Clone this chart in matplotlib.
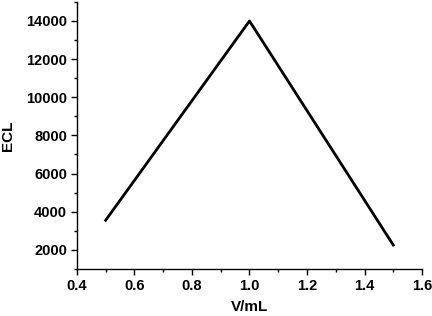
import matplotlib
matplotlib.use("Agg")
import matplotlib.pyplot as plt
from matplotlib.ticker import MultipleLocator

plt.rcParams['font.family'] = ['Liberation Sans', 'DejaVu Sans']

volume = [0.5, 1.0, 1.5]
ecl = [3550, 14000, 2250]

fig = plt.figure(figsize=(4.32, 3.16), dpi=100)
ax = fig.add_axes([0.178, 0.149, 0.799, 0.845])
ax.plot(volume, ecl, color='black', linewidth=2.0)
ax.set_xlim(0.4, 1.6)
ax.set_ylim(1000, 15000)
ax.xaxis.set_minor_locator(MultipleLocator(0.1))
ax.yaxis.set_minor_locator(MultipleLocator(1000))
ax.set_xticks([0.4, 0.6, 0.8, 1.0, 1.2, 1.4, 1.6])
ax.set_xticklabels(['0.4', '0.6', '0.8', '1.0', '1.2', '1.4', '1.6'])
ax.set_yticks([2000, 4000, 6000, 8000, 10000, 12000, 14000])
for s in ['top', 'right']:
    ax.spines[s].set_visible(False)
for s in ['left', 'bottom']:
    ax.spines[s].set_linewidth(1.0)
ax.tick_params(which='major', direction='out', length=4, width=1, labelsize=10.5, pad=3)
ax.tick_params(which='minor', direction='out', length=2.5, width=1)
for lab in ax.get_xticklabels() + ax.get_yticklabels():
    lab.set_fontweight('bold')
ax.set_xlabel('V/mL', fontsize=11, fontweight='bold', labelpad=5)
ax.set_ylabel('ECL', fontsize=11, fontweight='bold', labelpad=8)
fig.savefig('out.png', dpi=100)
